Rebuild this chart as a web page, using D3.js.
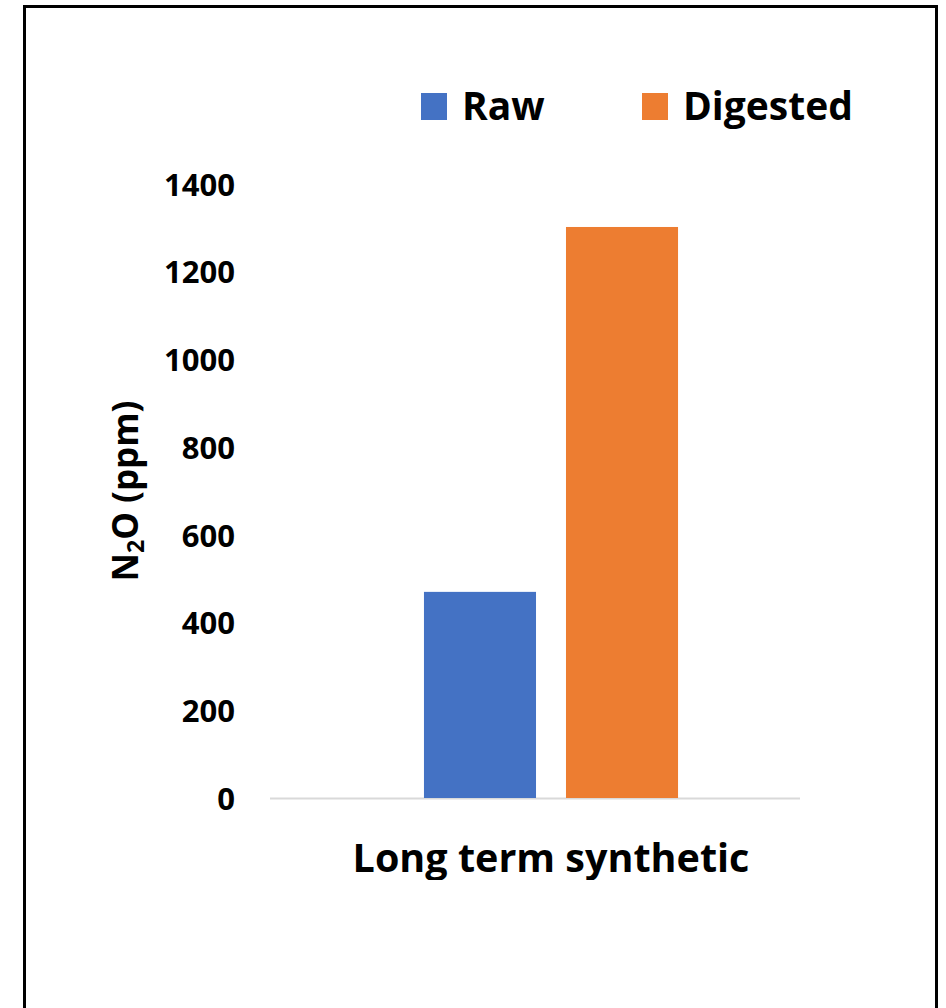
<!DOCTYPE html>
<html>
<head>
<meta charset="utf-8">
<script src="https://cdn.jsdelivr.net/npm/d3@7"></script>
<style>
  html, body { margin: 0; padding: 0; background: #fff; }
  svg { display: block; }
  text { font-family: "Open Sans", "Lato", sans-serif; font-weight: bold; fill: #000; }
</style>
</head>
<body>
<svg id="chart" width="946" height="1008"></svg>
<script>
// N2O concentration for the long-term synthetic feed
const categories = ["Long term synthetic"];
const seriesNames = ["Raw", "Digested"];
const rawValues = [470];
const digestedValues = [1302];
const seriesColors = ["#4472C4", "#ED7D31"];
const yTicks = [0, 200, 400, 600, 800, 1000, 1200, 1400];

const svg = d3.select("#chart");

// Outer frame (open at the bottom edge)
svg.append("rect")
  .attr("x", 24.5).attr("y", 6.5)
  .attr("width", 912).attr("height", 1020)
  .attr("fill", "none").attr("stroke", "#000").attr("stroke-width", 3);

const plotTop = 184, plotBottom = 798;
const axisLeft = 270, axisRight = 800;

const y = d3.scaleLinear().domain([0, 1400]).range([plotBottom, plotTop]);

const x0 = d3.scaleBand().domain(categories).range([270, 832]).paddingInner(0).paddingOuter(0.606);
const x1 = d3.scaleBand().domain(seriesNames).range([0, x0.bandwidth()]).paddingInner(0.211).paddingOuter(0);

// Y axis tick labels (no axis line, no ticks)
const yAxis = d3.axisLeft(y).tickValues(yTicks).tickFormat(d3.format("d")).tickSize(0).tickPadding(0);
const gy = svg.append("g").attr("transform", "translate(235,0)").call(yAxis);
gy.select(".domain").remove();
gy.selectAll("text")
  .style("font-size", "31px")
  .style("font-family", "'Open Sans', sans-serif")
  .style("font-weight", "bold")
  .attr("fill", "#000")
  .attr("dy", "0.36em");

// Baseline
svg.append("line")
  .attr("x1", axisLeft).attr("x2", axisRight)
  .attr("y1", y(0) + 0.5).attr("y2", y(0) + 0.5)
  .attr("stroke", "#D9D9D9").attr("stroke-width", 2);

// Bars
const rows = categories.map((c, i) => ({
  category: c,
  values: [
    { series: seriesNames[0], value: rawValues[i], color: seriesColors[0] },
    { series: seriesNames[1], value: digestedValues[i], color: seriesColors[1] }
  ]
}));

const groups = svg.append("g").selectAll("g").data(rows).join("g")
  .attr("transform", d => `translate(${x0(d.category)},0)`);

groups.selectAll("rect").data(d => d.values).join("rect")
  .attr("x", d => x1(d.series))
  .attr("width", x1.bandwidth())
  .attr("y", d => y(d.value))
  .attr("height", d => y(0) - y(d.value))
  .attr("fill", d => d.color);

// Category label, cut off at the lower edge
svg.append("clipPath").attr("id", "catclip")
  .append("rect").attr("x", 0).attr("y", 0).attr("width", 946).attr("height", 880);

svg.append("g").attr("clip-path", "url(#catclip)")
  .selectAll("text").data(categories).join("text")
  .attr("x", d => x0(d) + x0.bandwidth() / 2)
  .attr("y", 872)
  .attr("text-anchor", "middle")
  .style("font-size", "39.5px")
  .text(d => d);

// Y axis title with subscript
const yTitle = svg.append("text")
  .attr("transform", "translate(138,491) rotate(-90)")
  .attr("text-anchor", "middle")
  .style("font-size", "35px");
yTitle.append("tspan").text("N");
yTitle.append("tspan").text("2").attr("dy", "0.25em").style("font-size", "23px");
yTitle.append("tspan").text("O (ppm)").attr("dy", "-0.17em");

// Legend
const legendItems = [
  { name: seriesNames[0], color: seriesColors[0], x: 421 },
  { name: seriesNames[1], color: seriesColors[1], x: 642 }
];
const lg = svg.append("g").selectAll("g").data(legendItems).join("g")
  .attr("transform", d => `translate(${d.x},93)`);
lg.append("rect").attr("width", 26).attr("height", 27).attr("fill", d => d.color);
lg.append("text").attr("x", 41).attr("y", 27)
  .style("font-size", "39px")
  .text(d => d.name);
</script>
</body>
</html>
